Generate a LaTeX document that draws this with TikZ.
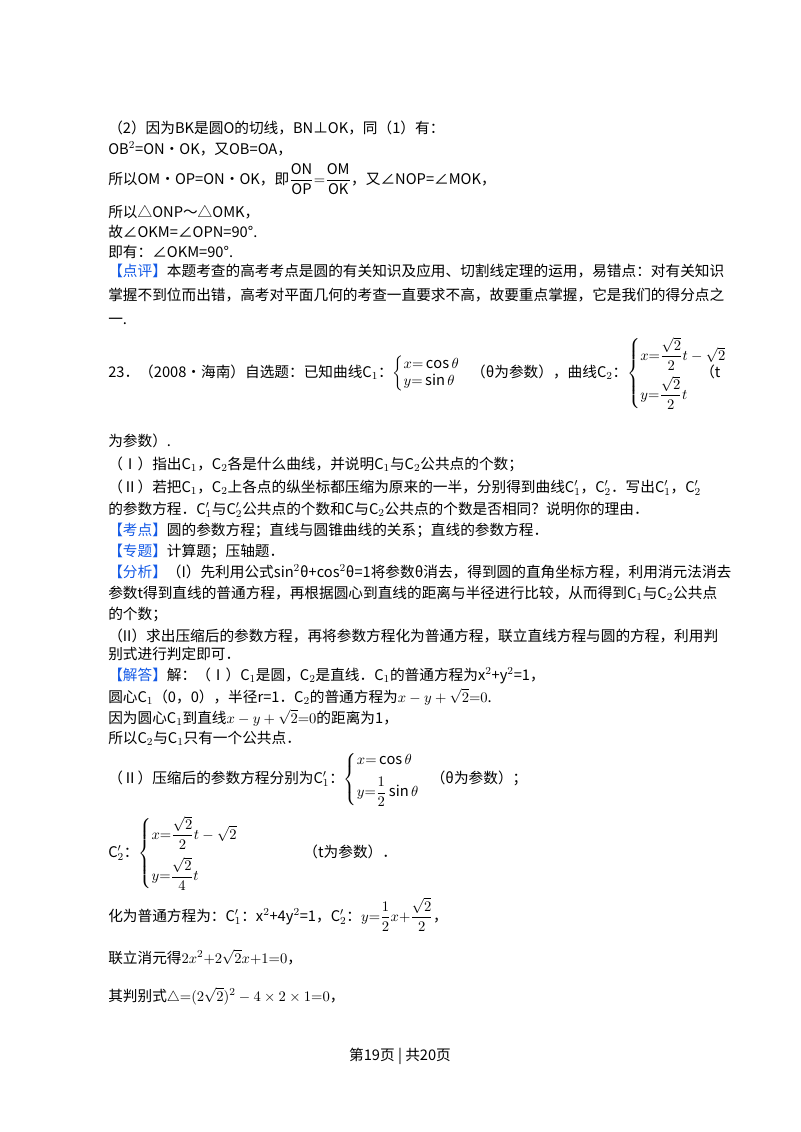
\documentclass[tikz,border=0pt]{standalone}
\usepackage{amsmath}
\usepackage{fontspec}
\setmainfont{Noto Sans CJK SC}
\definecolor{kb}{RGB}{20,90,230}
\newcommand{\kb}[1]{\textcolor{kb}{#1}}
\begin{document}
\begin{tikzpicture}[x=0.75pt,y=-0.75pt,
  ln/.style={anchor=base west,inner sep=0pt,font=\fontsize{11pt}{13pt}\selectfont}]
\useasboundingbox (0,0) rectangle (800,1132);
\node[ln] (l1) at (108,133) {（2）因为BK是圆O的切线，BN⊥OK，同（1）有：};
\node[ln] (l2) at (108,154) {OB$^2$=ON•OK，又OB=OA，};
\node[ln] (l3) at (108,184) {所以OM•OP=ON•OK，即$\dfrac{\mathrm{ON}}{\mathrm{OP}}{=}\dfrac{\mathrm{OM}}{\mathrm{OK}}$，又∠NOP=∠MOK，};
\node[ln] (l4) at (108,217) {所以△ONP～△OMK，};
\node[ln] (l5) at (108,237) {故∠OKM=∠OPN=90°.};
\node[ln] (l6) at (108,257) {即有：∠OKM=90°.};
\node[ln] (l7) at (108,276) {\kb{【点评】}本题考查的高考考点是圆的有关知识及应用、切割线定理的运用，易错点：对有关知识};
\node[ln] (l8) at (108,300) {掌握不到位而出错，高考对平面几何的考查一直要求不高，故要重点掌握，它是我们的得分点之};
\node[ln] (l9) at (108,324) {一.};
\node[ln] (q) at (108,377) {23．（2008•海南）自选题：已知曲线C$_1$：$\left\{\begin{array}{@{}l}x{=}\cos\theta\\ y{=}\sin\theta\end{array}\right.$\;（θ为参数），曲线C$_2$：$\left\{\begin{array}{@{}l}x{=}\dfrac{\sqrt2}{2}t-\sqrt2\\[8pt] y{=}\dfrac{\sqrt2}{2}t\end{array}\right.$};
\node[ln] (qt) at (700,377) {（t};
\node[ln] (m1) at (108,446) {为参数）.};
\node[ln] (m2) at (108,469) {（Ⅰ）指出C$_1$，C$_2$各是什么曲线，并说明C$_1$与C$_2$公共点的个数；};
\node[ln] (m3) at (108,492) {（Ⅱ）若把C$_1$，C$_2$上各点的纵坐标都压缩为原来的一半，分别得到曲线C$_1'$，C$_2'$．写出C$_1'$，C$_2'$};
\node[ln] (m4) at (108,514) {的参数方程．C$_1'$与C$_2'$公共点的个数和C与C$_2$公共点的个数是否相同？说明你的理由．};
\node[ln] (m5) at (108,535) {\kb{【考点】}圆的参数方程；直线与圆锥曲线的关系；直线的参数方程．};
\node[ln] (m6) at (108,556) {\kb{【专题】}计算题；压轴题．};
\node[ln] (m7) at (108,577) {\kb{【分析】}（I）先利用公式sin$^2$θ+cos$^2$θ=1将参数θ消去，得到圆的直角坐标方程，利用消元法消去};
\node[ln] (m8) at (108,598) {参数t得到直线的普通方程，再根据圆心到直线的距离与半径进行比较，从而得到C$_1$与C$_2$公共点};
\node[ln] (m9) at (108,619) {的个数；};
\node[ln] (m10) at (108,641) {（II）求出压缩后的参数方程，再将参数方程化为普通方程，联立直线方程与圆的方程，利用判};
\node[ln] (m11) at (108,659) {别式进行判定即可．};
\node[ln] (a1) at (108,680) {\kb{【解答】}解：（Ⅰ）C$_1$是圆，C$_2$是直线．C$_1$的普通方程为x$^2$+y$^2$=1，};
\node[ln] (a2) at (108,702) {圆心C$_1$（0，0），半径r=1．C$_2$的普通方程为$x-y+\sqrt2{=}0$.};
\node[ln] (a3) at (108,723) {因为圆心C$_1$到直线$x-y+\sqrt2{=}0$的距离为1，};
\node[ln] (a4) at (108,743) {所以C$_2$与C$_1$只有一个公共点．};
\node[ln] (a5) at (108,783) {（Ⅱ）压缩后的参数方程分别为C$_1'$：$\left\{\begin{array}{@{}l}x{=}\cos\theta\\[6pt] y{=}\dfrac12\sin\theta\end{array}\right.$\;（θ为参数）；};
\node[ln] (a6) at (108,857) {C$_2'$：$\left\{\begin{array}{@{}l}x{=}\dfrac{\sqrt2}{2}t-\sqrt2\\[10pt] y{=}\dfrac{\sqrt2}{4}t\end{array}\right.$\qquad\qquad（t为参数）．};
\node[ln] (a7) at (108,921) {化为普通方程为：C$_1'$：x$^2$+4y$^2$=1，C$_2'$：$y{=}\dfrac12x{+}\dfrac{\sqrt2}{2}$，};
\node[ln] (a8) at (108,963) {联立消元得$2x^2{+}2\sqrt2x{+}1{=}0$，};
\node[ln] (a9) at (108,1001) {其判别式$\triangle{=}(2\sqrt2)^2-4\times2\times1{=}0$，};
\node[ln,anchor=base] (ft) at (400,1060) {第19页 | 共20页};
\end{tikzpicture}
\end{document}
